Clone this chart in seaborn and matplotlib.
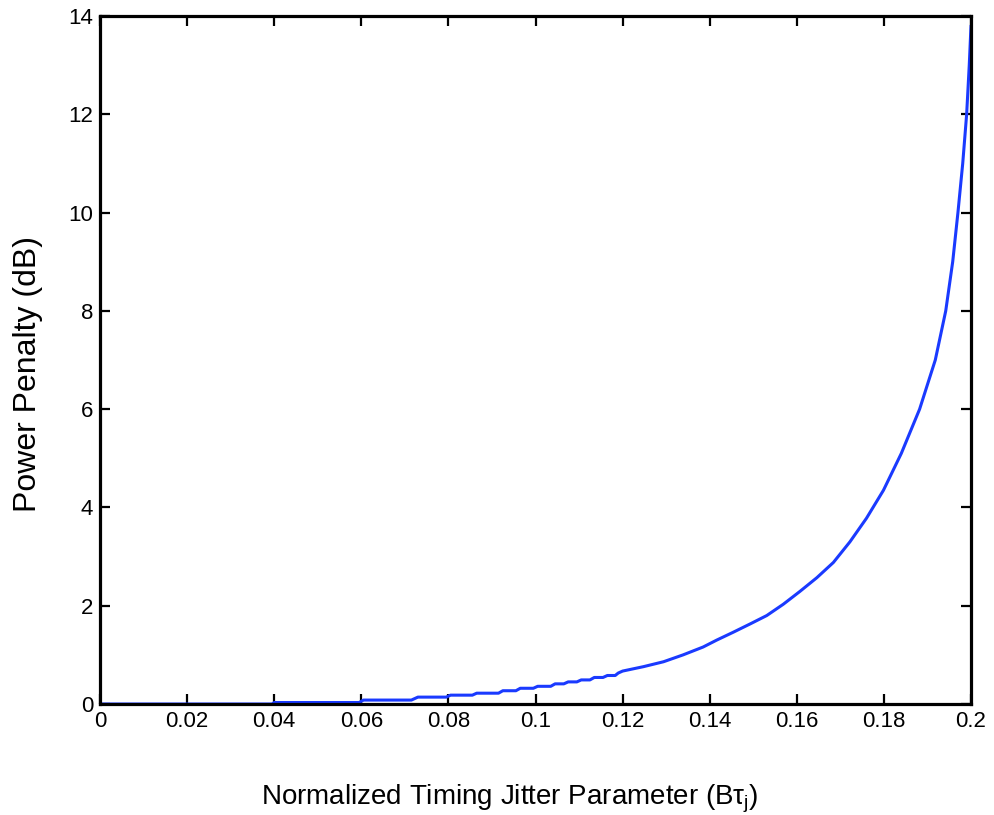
import matplotlib
matplotlib.use("Agg")
import matplotlib.pyplot as plt
import seaborn as sns
import pandas as pd

# Normalized timing jitter parameter (B*tau_j) and the resulting power penalty (dB)
jitter = [0.0, 0.0395, 0.0400, 0.0595, 0.0605, 0.0715, 0.0730, 0.0795, 0.0805,
          0.0855, 0.0865, 0.0915, 0.0925, 0.0955, 0.0965, 0.0995, 0.1005, 0.1035,
          0.1045, 0.1065, 0.1075, 0.1095, 0.1105, 0.1125, 0.1135, 0.1155, 0.1165,
          0.1183, 0.1190, 0.1200, 0.1248, 0.1294, 0.1339, 0.1385, 0.1416, 0.1454,
          0.1493, 0.1531, 0.1569, 0.1607, 0.1646, 0.1684, 0.1722, 0.1760, 0.1799,
          0.1840, 0.1882, 0.1918, 0.1942, 0.1958, 0.1970, 0.1981, 0.1990, 0.1996,
          0.2000]
penalty = [0.0, 0.0, 0.03, 0.03, 0.08, 0.08, 0.14, 0.14, 0.18,
           0.18, 0.22, 0.22, 0.27, 0.27, 0.32, 0.32, 0.36, 0.36,
           0.41, 0.41, 0.45, 0.45, 0.49, 0.49, 0.54, 0.54, 0.58,
           0.58, 0.63, 0.67, 0.76, 0.86, 1.00, 1.16, 1.30, 1.46,
           1.63, 1.80, 2.03, 2.29, 2.57, 2.88, 3.30, 3.78, 4.35,
           5.10, 6.00, 7.00, 8.00, 9.00, 10.00, 11.00, 12.00, 13.00,
           13.80]

x_ticks = [0.0, 0.02, 0.04, 0.06, 0.08, 0.1, 0.12, 0.14, 0.16, 0.18, 0.2]
x_tick_labels = ["0", "0.02", "0.04", "0.06", "0.08", "0.1", "0.12", "0.14",
                 "0.16", "0.18", "0.2"]
y_ticks = [0, 2, 4, 6, 8, 10, 12, 14]
y_tick_labels = ["0", "2", "4", "6", "8", "10", "12", "14"]

df = pd.DataFrame({"jitter": jitter, "penalty": penalty})

sns.set_theme(style="white")
plt.rcParams["font.family"] = ["Liberation Sans", "DejaVu Sans"]
plt.rcParams["mathtext.fontset"] = "custom"
plt.rcParams["mathtext.rm"] = "Liberation Sans"
plt.rcParams["mathtext.it"] = "Liberation Sans"

fig = plt.figure(figsize=(9.95, 8.15), dpi=100)
ax = fig.add_axes([100 / 995, 1 - 704 / 815, 871 / 995, 688 / 815])

sns.lineplot(data=df, x="jitter", y="penalty", ax=ax, color="#1a3aff",
             linewidth=2.2, sort=False, estimator=None)

ax.set_xlim(0, 0.2)
ax.set_ylim(0, 14)
ax.set_xticks(x_ticks)
ax.set_xticklabels(x_tick_labels)
ax.set_yticks(y_ticks)
ax.set_yticklabels(y_tick_labels)

for side in ["left", "right", "top", "bottom"]:
    ax.spines[side].set_visible(True)
    ax.spines[side].set_color("black")
    ax.spines[side].set_linewidth(2.3)

ax.tick_params(axis="both", which="major", direction="in", length=7, width=1.6,
               color="black", labelsize=16, labelcolor="black",
               top=True, right=True, bottom=True, left=True, pad=5)

ax.set_xlabel(r"Normalized Timing Jitter Parameter (B$\tau_\mathrm{j}$)",
              fontsize=20, color="black")
ax.set_ylabel("Power Penalty (dB)", fontsize=23, color="black")
ax.xaxis.set_label_coords(0.47, -0.115)
ax.yaxis.set_label_coords(-0.066, 0.48)

fig.savefig("out.png", dpi=100)
